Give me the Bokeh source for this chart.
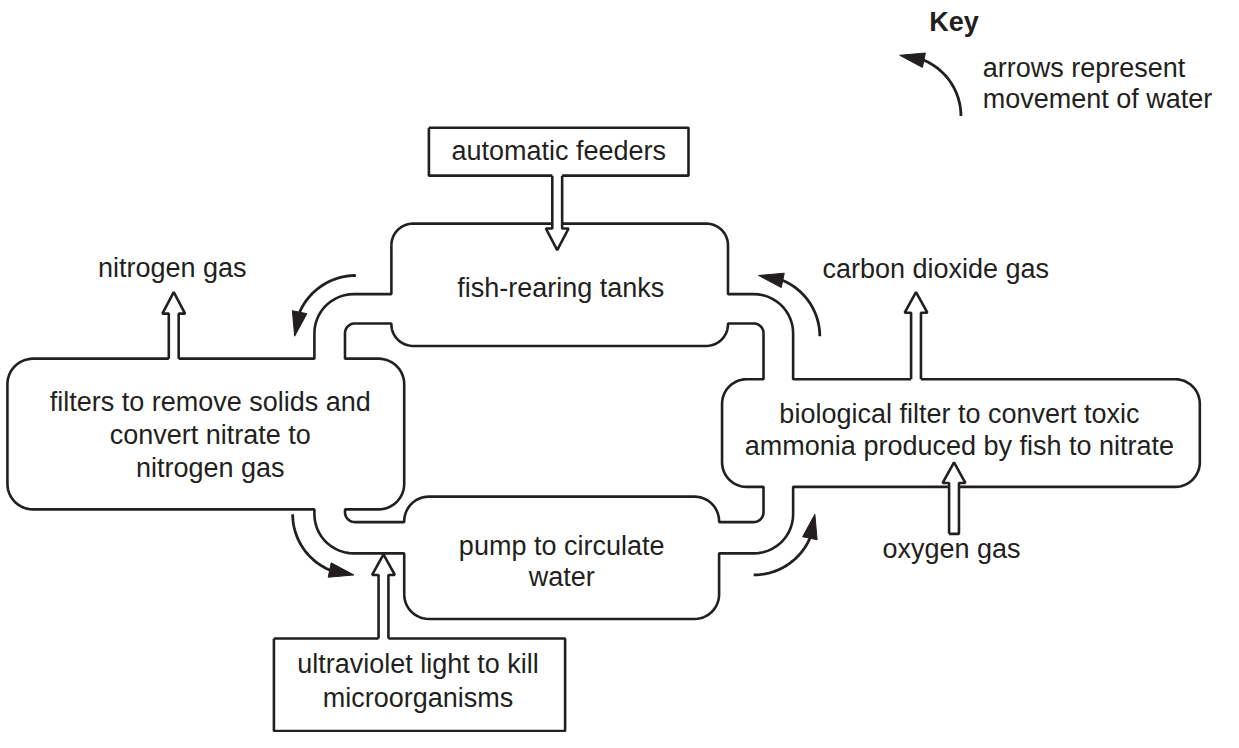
import numpy as np
from bokeh.plotting import figure
from bokeh.models import Range1d
from bokeh.core.properties import value
from bokeh.embed import file_html
from bokeh.resources import INLINE

INK = "#231f20"
FONT = "Liberation Sans"
FSIZE = "27px"

# ---------------- diagram geometry (reference pixel coordinates, y downwards) ----------------
# outer contour of the tank / pipe loop: x, y, corner radius
OUTER_X = [396, 737, 737, 803, 803, 1215, 1215, 803, 803, 728, 728, 409, 409, 318, 318, 7, 7, 318, 318, 396]
OUTER_Y = [228, 228, 300, 300, 387, 387, 497, 497, 565, 565, 632, 632, 565, 565, 520, 520, 366, 366, 300, 300]
OUTER_R = [22, 22, 0, 40, 0, 25, 25, 0, 40, 0, 25, 25, 0, 40, 0, 26, 26, 0, 40, 0]

# inner contour (the hole in the middle of the loop)
INNER_X = [349, 396, 396, 737, 737, 773, 773, 731, 731, 773, 773, 728, 728, 409, 409, 349, 349, 409, 409, 349]
INNER_Y = [330, 330, 353, 353, 330, 330, 387, 387, 497, 497, 533, 533, 507, 507, 533, 533, 520, 520, 366, 366]
INNER_R = [10, 0, 22, 22, 0, 10, 0, 25, 25, 0, 10, 0, 25, 25, 0, 10, 0, 26, 26, 0]

# square-cornered boxes: automatic feeders, ultraviolet light
RECT_LEFT = [434, 277]
RECT_RIGHT = [697, 572]
RECT_TOP = [130, 652]
RECT_BOTTOM = [179, 746.5]

# hollow (outlined) arrows: feeders, nitrogen, carbon dioxide, oxygen, ultraviolet
HA_X = [564, 175.5, 927.5, 966, 388]
HA_TIP = [255, 298, 298, 472, 566]
HA_BASE = [233, 320, 319, 493, 587]
HA_TAIL = [179, 366, 387, 545, 652]
HA_CLOSED = [False, False, False, True, False]

# curved water-movement arrows (quarter circles): centre, start angle, end angle (deg, y down)
CA_CX = [360, 768, 763, 358, 911]
CA_CY = [343, 343, 525, 525, 118]
CA_START = [-90, 0, 90, 180, 0]
CA_END = [-180, -90, 0, 90, -90]
CA_R = 62

# texts
CENTER_TEXT = [
    "automatic feeders", "fish-rearing tanks", "nitrogen gas", "carbon dioxide gas",
    "filters to remove solids and", "convert nitrate to", "nitrogen gas",
    "biological filter to convert toxic", "ammonia produced by fish to nitrate",
    "oxygen gas", "pump to circulate", "water",
    "ultraviolet light to kill", "microorganisms",
]
CENTER_X = [565.5, 567.5, 174, 947.5, 212.5, 212.5, 212.5, 971.5, 971.5, 963.5, 568.5, 568.5, 423, 423]
CENTER_Y = [154, 293.5, 273.5, 274, 410.5, 444, 477.5, 422.5, 455.5, 560.5, 557.5, 589.5, 678.5, 712.5]

KEY_TITLE = "Key"
KEY_TITLE_X, KEY_TITLE_Y = 966, 22
KEY_TEXT = ["arrows represent", "movement of water"]
KEY_X = [995, 995]
KEY_Y = [69, 101]


# ---------------- helpers ----------------
def rounded_path(xs_in, ys_in, rs_in, n=14):
    xs, ys = [], []
    N = len(xs_in)
    for i in range(N):
        x, y, r = xs_in[i], ys_in[i], rs_in[i]
        if r == 0:
            xs.append(x); ys.append(y)
            continue
        px, py = xs_in[i - 1], ys_in[i - 1]
        nx, ny = xs_in[(i + 1) % N], ys_in[(i + 1) % N]
        d1 = np.array([px - x, py - y], float); d1 /= np.hypot(*d1)
        d2 = np.array([nx - x, ny - y], float); d2 /= np.hypot(*d2)
        a = np.array([x, y]) + d1 * r
        b = np.array([x, y]) + d2 * r
        c = np.array([x, y]) + (d1 + d2) * r
        a0 = np.arctan2(a[1] - c[1], a[0] - c[0])
        a1 = np.arctan2(b[1] - c[1], b[0] - c[0])
        da = (a1 - a0 + np.pi) % (2 * np.pi) - np.pi
        for t in np.linspace(0, 1, n):
            ang = a0 + da * t
            xs.append(c[0] + r * np.cos(ang)); ys.append(c[1] + r * np.sin(ang))
    xs.append(xs[0]); ys.append(ys[0])
    return xs, ys


p = figure(width=1223, height=732, x_range=Range1d(0, 1239), y_range=Range1d(748, 0),
           toolbar_location=None, output_backend="svg", min_border=0)
p.axis.visible = False
p.grid.visible = False
p.outline_line_color = None
p.background_fill_color = "white"

LW = 2.6

# loop contours
for X, Y, R in [(OUTER_X, OUTER_Y, OUTER_R), (INNER_X, INNER_Y, INNER_R)]:
    xs, ys = rounded_path(X, Y, R)
    p.line(xs, ys, line_color=INK, line_width=LW)

# square boxes
for l, r, t, b in zip(RECT_LEFT, RECT_RIGHT, RECT_TOP, RECT_BOTTOM):
    p.line([l, r, r, l, l], [t, t, b, b, t], line_color=INK, line_width=LW)

# hollow arrows
SW, HW = 5, 11.5
for cx, tip, base, tail, closed in zip(HA_X, HA_TIP, HA_BASE, HA_TAIL, HA_CLOSED):
    s = np.sign(tip - base)
    tail_fill = tail if closed else tail - s * 4
    fx = [cx - SW, cx - SW, cx - HW, cx, cx + HW, cx + SW, cx + SW]
    fy = [tail_fill, base, base, tip, base, base, tail_fill]
    p.patch(fx, fy, fill_color="white", line_color=None)
    ox = [cx - SW, cx - SW, cx - HW, cx, cx + HW, cx + SW, cx + SW]
    oy = [tail, base, base, tip, base, base, tail]
    if closed:
        ox.append(ox[0]); oy.append(oy[0])
    p.line(ox, oy, line_color=INK, line_width=LW)

# curved arrows
HEAD_L, HEAD_W = 25, 7.5
for cx, cy, a0, a1 in zip(CA_CX, CA_CY, CA_START, CA_END):
    a0r, a1r = np.radians(a0), np.radians(a1)
    sgn = np.sign(a1r - a0r)
    back = a1r - sgn * HEAD_L / CA_R
    line_end = a1r - sgn * (HEAD_L * 0.85) / CA_R
    t = np.linspace(a0r, line_end, 40)
    p.line(cx + CA_R * np.cos(t), cy + CA_R * np.sin(t), line_color=INK, line_width=2.8)
    tip = np.array([cx + CA_R * np.cos(a1r), cy + CA_R * np.sin(a1r)])
    bk = np.array([cx + CA_R * np.cos(back), cy + CA_R * np.sin(back)])
    u = (tip - bk) / np.hypot(*(tip - bk))
    nrm = np.array([-u[1], u[0]])
    bc = tip - u * HEAD_L
    tri = [tip, bc + nrm * HEAD_W, bc - nrm * HEAD_W]
    p.patch([q[0] for q in tri], [q[1] for q in tri], fill_color=INK, line_color=INK, line_width=1)

# texts
p.text(x=CENTER_X, y=CENTER_Y, text=CENTER_TEXT, text_align="center", text_baseline="middle",
       text_font=value(FONT), text_font_size=FSIZE, text_color=INK)
p.text(x=KEY_X, y=KEY_Y, text=KEY_TEXT, text_align="left", text_baseline="middle",
       text_font=value(FONT), text_font_size=FSIZE, text_color=INK)
p.text(x=[KEY_TITLE_X], y=[KEY_TITLE_Y], text=[KEY_TITLE], text_align="center", text_baseline="middle",
       text_font=value(FONT), text_font_size=FSIZE, text_font_style="bold", text_color=INK)

open("out.html", "w").write(file_html(p, INLINE))
